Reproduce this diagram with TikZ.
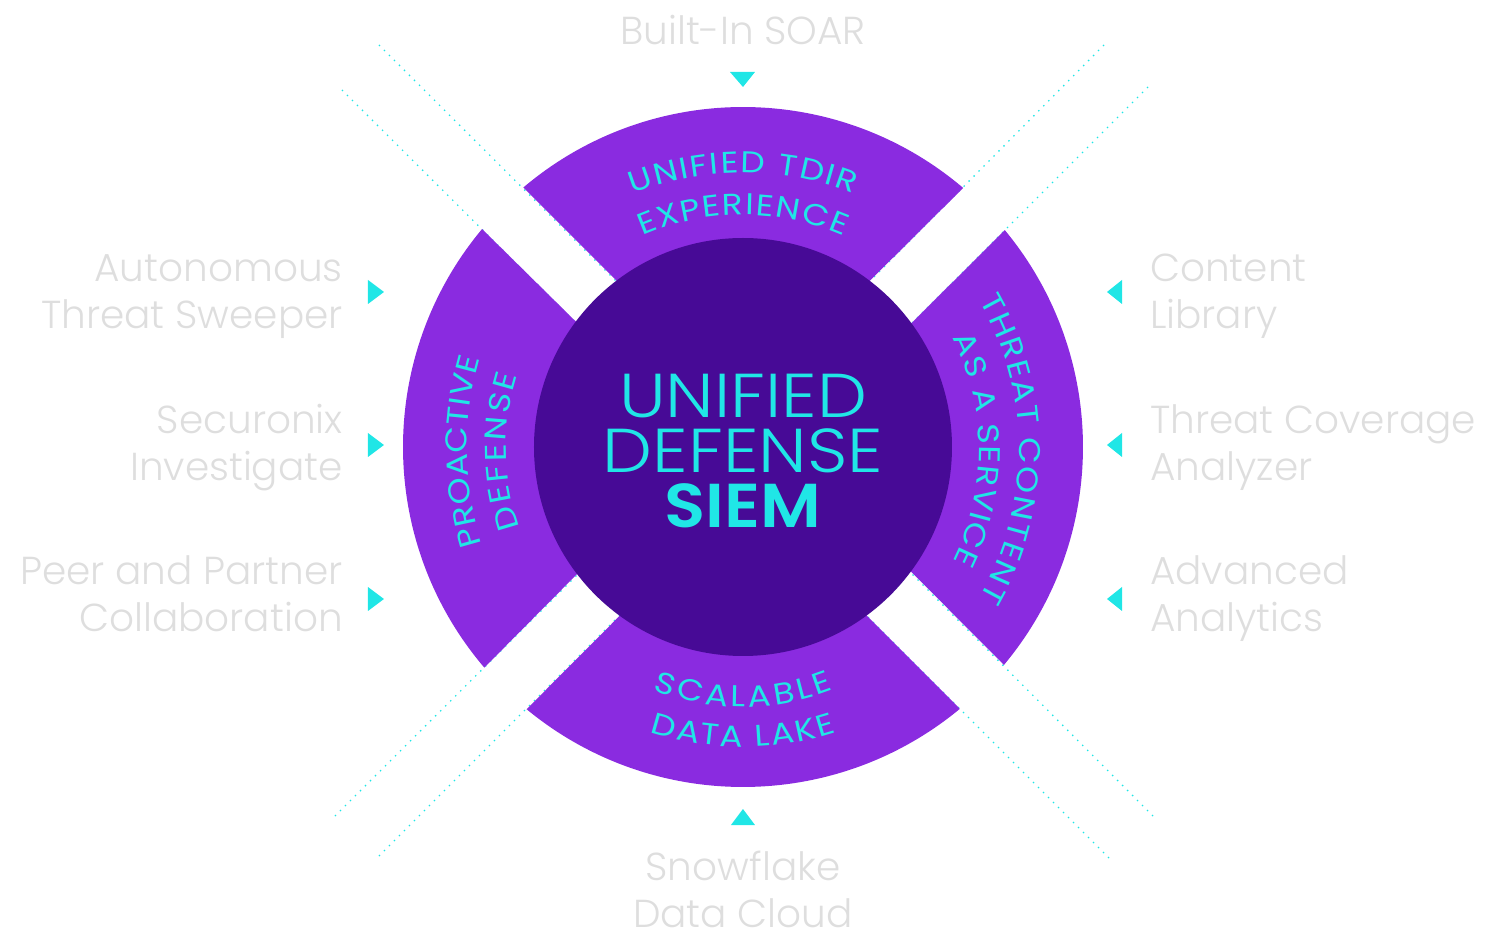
\documentclass[tikz,border=0pt]{standalone}
\usepackage{fontspec}
\usetikzlibrary{decorations.text}
\newfontfamily\listfont{Poppins Light}
\newfontfamily\curvefont{Poppins}[FakeStretch=1.15]
\newfontfamily\corefont{Poppins Light}[FakeStretch=1.14]
\newfontfamily\corebold{Poppins SemiBold}[FakeStretch=1.09]
\definecolor{petal}{HTML}{8A2BE0}
\definecolor{core}{HTML}{470A96}
\definecolor{accent}{HTML}{20E6E6}
\definecolor{listgray}{HTML}{DEDEDE}
\tikzset{
  petal/.style={fill=petal},
  marker/.style={fill=accent},
  rail/.style={draw=accent,line width=1.3pt,dash pattern=on 1.3pt off 5.77pt},
  listleft/.style={anchor=base east,align=right,inner sep=0pt,text=listgray,font=\listfont\fontsize{39}{47}\selectfont},
  listright/.style={anchor=base west,align=left,inner sep=0pt,text=listgray,font=\listfont\fontsize{39}{47}\selectfont},
  listmid/.style={anchor=base,align=center,inner sep=0pt,text=listgray,font=\listfont\fontsize{39}{47}\selectfont},
  curved/.style={decorate,decoration={text along path,text align=fit to path,text={|\curvefont\fontsize{30}{30}\selectfont\color{accent}|#1}}}
}
\newcommand{\curvelabel}[5]{\path[curved={#5}] (#1) ++(#3:#2pt) arc[start angle=#3,end angle=#4,radius=#2pt];}
\begin{document}
\begin{tikzpicture}[x=1pt,y=1pt]
\useasboundingbox (-743,447) rectangle (757,-500);
% dotted rails
\coordinate (a1) at (-364,402);
\coordinate (a2) at (-127,166);
\coordinate (b1) at (-401,357);
\coordinate (b2) at (-167,124);
\coordinate (c1) at (361,402);
\coordinate (c2) at (127,166);
\coordinate (d1) at (405,360);
\coordinate (d2) at (169,124);
\coordinate (e1) at (410,-369);
\coordinate (e2) at (167,-125);
\coordinate (f1) at (366,-411);
\coordinate (f2) at (123,-168);
\coordinate (g1) at (-408,-369);
\coordinate (g2) at (-165,-127);
\coordinate (h1) at (-364,-409);
\coordinate (h2) at (-123,-168);
\draw[rail] (a1)--(a2);
\draw[rail] (b1)--(b2);
\draw[rail] (c1)--(c2);
\draw[rail] (d1)--(d2);
\draw[rail] (e1)--(e2);
\draw[rail] (f1)--(f2);
\draw[rail] (g1)--(g2);
\draw[rail] (h1)--(h2);
% petals
\fill[petal] (130.24:340pt) arc[start angle=130.24,end angle=49.64,radius=340pt] -- (0,40) -- cycle;
\fill[petal] (140.13:340pt) arc[start angle=140.13,end angle=220.46,radius=340pt] -- (-40,0) -- cycle;
\fill[petal] (39.63:340pt) arc[start angle=39.63,end angle=-39.87,radius=340pt] -- (44,0) -- cycle;
\fill[petal] (230.47:340pt) arc[start angle=230.47,end angle=309.63,radius=340pt] -- (0,-45) -- cycle;
\node[circle,fill=core,minimum size=418pt,inner sep=0pt] (core) at (0,0) {};
% text on the petals
\curvelabel{0,-29}{303}{111.3}{68.7}{UNIFIED TDIR}
\curvelabel{0,-21}{253}{113.5}{66.5}{EXPERIENCE}
\curvelabel{-21,-2}{297}{30}{-30}{THREAT CONTENT}
\curvelabel{-14,-3}{250}{26.6}{-26.6}{AS A SERVICE}
\curvelabel{42,-1}{318}{197.6}{163.6}{PROACTIVE}
\curvelabel{3,-1}{240}{199.4}{162.3}{DEFENSE}
\curvelabel{0,-13}{247}{248.6}{291.4}{SCALABLE}
\curvelabel{0,-4}{296}{251.7}{288.3}{DATA LAKE}
% middle
\node[anchor=base,align=center,inner sep=0pt,text=accent,font=\corefont\fontsize{62}{55}\selectfont] (title) at (0,-81) {UNIFIED\\DEFENSE\\{\corebold SIEM}};
% markers
\fill[marker] (-13,375) -- (12,375) -- (0,360) -- cycle;
\fill[marker] (-12,-378) -- (12,-378) -- (0,-362) -- cycle;
\fill[marker] (-375,167) -- (-375,143) -- (-359,155) -- cycle;
\fill[marker] (-375,14) -- (-375,-10) -- (-359,2) -- cycle;
\fill[marker] (-375,-140) -- (-375,-164) -- (-359,-152) -- cycle;
\fill[marker] (379,167) -- (379,143) -- (364,155) -- cycle;
\fill[marker] (379,14) -- (379,-10) -- (364,2) -- cycle;
\fill[marker] (379,-140) -- (379,-164) -- (364,-152) -- cycle;
% lists
\node[listmid] (soar) at (0,402) {Built-In SOAR};
\node[listleft] (sweeper) at (-400,118) {Autonomous\\Threat Sweeper};
\node[listleft] (investigate) at (-400,-34) {Securonix\\Investigate};
\node[listleft] (partner) at (-400,-185) {Peer and Partner\\Collaboration};
\node[listright] (library) at (407,118) {Content\\Library};
\node[listright] (coverage) at (407,-34) {Threat Coverage\\Analyzer};
\node[listright] (analytics) at (407,-185) {Advanced\\Analytics};
\node[listmid] (snowflake) at (0,-480) {Snowflake\\Data Cloud};
\end{tikzpicture}
\end{document}
